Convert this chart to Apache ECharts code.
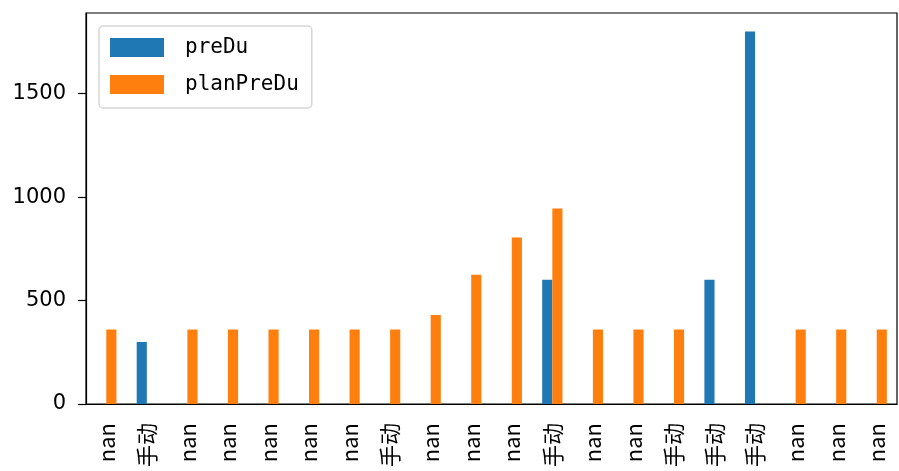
<!DOCTYPE html>
<html>
<head>
<meta charset="utf-8">
<script src="https://cdn.jsdelivr.net/npm/echarts@6/dist/echarts.min.js"></script>
<style>
  html, body { margin: 0; padding: 0; background: #fff; }
  #chart { width: 899px; height: 471px; }
</style>
</head>
<body>
<div id="chart"></div>
<script>
const categories = ['nan', '手动', 'nan', 'nan', 'nan', 'nan', 'nan', '手动', 'nan', 'nan',
  'nan', '手动', 'nan', 'nan', '手动', '手动', '手动', 'nan', 'nan', 'nan']
const preDu = [null, 300, null, null, null, null, null, null, null, null,
  null, 600, null, null, null, 600, 1800, null, null, null]
const planPreDu = [360, null, 360, 360, 360, 360, 360, 360, 430, 625,
  805, 945, 360, 360, 360, null, null, 360, 360, 360]
const yTicks = [0, 500, 1000, 1500]

let option = {
  animation: false,
  grid: {
    left: 86, right: 2, top: 13, bottom: 67,
    show: true,
    borderColor: '#000',
    borderWidth: 1.2
  },
  legend: {
    orient: 'vertical',
    left: 99, top: 26,
    padding: [11, 13, 13, 11],
    itemWidth: 54,
    itemHeight: 19,
    itemGap: 16,
    borderColor: '#d6d6d6',
    borderWidth: 1.5,
    borderRadius: 4,
    icon: 'rect',
    textStyle: {
      fontFamily: 'DejaVu Sans Mono',
      fontSize: 21,
      color: '#000',
      padding: [0, 0, 0, 16]
    },
    data: ['preDu', 'planPreDu']
  },
  xAxis: {
    type: 'category',
    data: categories,
    axisLine: { lineStyle: { color: '#000', width: 1.2 } },
    axisTick: { alignWithLabel: true, length: 8, lineStyle: { color: '#000', width: 1.2 } },
    axisLabel: {
      rotate: 90,
      margin: 19,
      interval: 0,
      color: '#000',
      fontSize: 22,
      fontFamily: 'Noto Sans CJK SC'
    }
  },
  yAxis: {
    type: 'value',
    min: 0,
    max: 1890,
    splitLine: { show: false },
    axisLine: { show: true, lineStyle: { color: '#000', width: 1.2 } },
    axisTick: { show: true, length: 8, customValues: yTicks, lineStyle: { color: '#000', width: 1.2 } },
    axisLabel: {
      customValues: yTicks,
      formatter: v => String(v),
      margin: 20,
      color: '#000',
      fontSize: 21,
      fontFamily: 'DejaVu Sans'
    }
  },
  series: [
    {
      name: 'preDu',
      type: 'bar',
      data: preDu,
      barWidth: '25%',
      barGap: '0%',
      itemStyle: { color: '#1f77b4' }
    },
    {
      name: 'planPreDu',
      type: 'bar',
      data: planPreDu,
      barWidth: '25%',
      barGap: '0%',
      itemStyle: { color: '#ff7f0e' }
    }
  ]
}

let chart = echarts.init(document.getElementById('chart'))
chart.setOption(option)
</script>
</body>
</html>
